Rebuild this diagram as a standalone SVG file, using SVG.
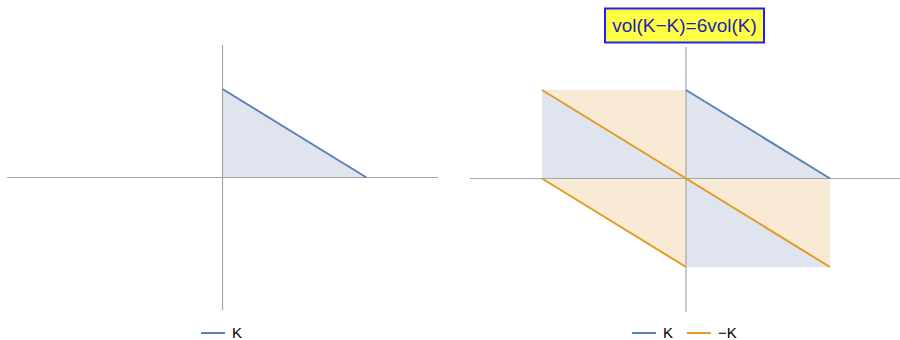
<svg xmlns="http://www.w3.org/2000/svg" width="900" height="340" viewBox="0 0 900 340">
<style>
.axis{stroke:#a6a6a6;stroke-width:1.2;fill:none}
.kf{fill:#dfe4ee;stroke:none}
.of{fill:#f8ead5;stroke:none}
.kl{stroke:#5e81b5;stroke-width:2;fill:none}
.ol{stroke:#e19c24;stroke-width:2;fill:none}
.lbl{font-family:"Liberation Sans",Arial,sans-serif;font-size:15px;fill:#000}
.title{font-family:"Liberation Sans",Arial,sans-serif;font-size:19px;fill:#1f1fb0}
</style>
<rect width="900" height="340" fill="#fff"/>
<g id="left-plot">
  <polygon class="kf" points="222.5,89 366.5,177.5 222.5,177.5"/>
  <g id="left-axes">
    <line class="axis" x1="7" y1="177.5" x2="438" y2="177.5"/>
    <line class="axis" x1="222.5" y1="45" x2="222.5" y2="310"/>
  </g>
  <line class="kl" x1="222.5" y1="89" x2="366.5" y2="177.5"/>
</g>
<g id="right-plot">
  <polygon class="kf" points="542,90 542,178.5 686,178.5"/>
  <polygon class="kf" points="686,90 830,178.5 686,178.5"/>
  <polygon class="kf" points="686,178.5 830,267 686,267"/>
  <polygon class="of" points="542,90 686,90 686,178.5"/>
  <polygon class="of" points="542,178.5 686,178.5 686,267"/>
  <polygon class="of" points="686,178.5 830,178.5 830,267"/>
  <g id="right-axes">
    <line class="axis" x1="470" y1="178.5" x2="900" y2="178.5"/>
    <line class="axis" x1="686" y1="47" x2="686" y2="312"/>
  </g>
  <line class="kl" x1="686" y1="90" x2="830" y2="178.5"/>
  <line class="ol" x1="542" y1="90" x2="830" y2="267"/>
  <line class="ol" x1="542" y1="178.5" x2="686" y2="267"/>
</g>
<g id="title">
  <rect x="605" y="8.5" width="159" height="34" fill="#ffff44" stroke="#2222ee" stroke-width="2"/>
  <text class="title" x="684.5" y="32" text-anchor="middle">vol(K−K)=6vol(K)</text>
</g>
<g id="legend-left">
  <line class="kl" x1="201" y1="333" x2="225" y2="333"/>
  <text class="lbl" x="232" y="338">K</text>
</g>
<g id="legend-right">
  <line class="kl" x1="632" y1="333" x2="656" y2="333"/>
  <text class="lbl" x="663" y="338">K</text>
  <line class="ol" x1="687" y1="333" x2="711" y2="333"/>
  <text class="lbl" x="718" y="338">−K</text>
</g>
</svg>
